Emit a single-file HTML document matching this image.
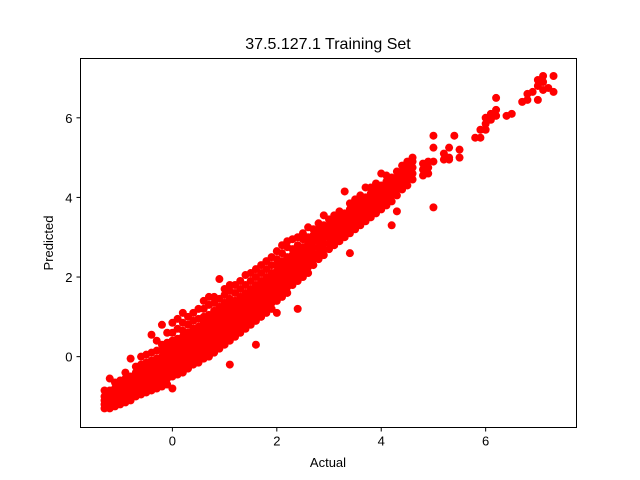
<!DOCTYPE html>
<html><head><meta charset="utf-8"><style>
html,body{margin:0;padding:0;background:#fff;}
svg{display:block;font-family:"Liberation Sans","DejaVu Sans",sans-serif;}
</style></head><body>
<svg id="chart" width="640" height="480">
<rect width="640" height="480" fill="#fff"/>
<text x="328" y="49" font-size="16" text-anchor="middle">37.5.127.1 Training Set</text>
<g id="points"></g>
<rect x="80.5" y="58.5" width="496" height="369" fill="none" stroke="#000" stroke-width="1"/>
<g id="xticks"></g>
<g id="yticks"></g>
<text x="328" y="467" font-size="13" text-anchor="middle">Actual</text>
<text transform="translate(53,243) rotate(-90)" font-size="13" text-anchor="middle">Predicted</text>
</svg>
<script>
const xTicks = [0, 2, 4, 6];
const yTicks = [0, 2, 4, 6];
const colX = [-1.3,-1.2,-1.1,-1.0,-0.9,-0.8,-0.7,-0.6,-0.5,-0.4,-0.3,-0.2,-0.1,0.0,0.1,0.2,0.3,0.4,0.5,0.6,0.7,0.8,0.9,1.0,1.1,1.2,1.3,1.4,1.5,1.6,1.7,1.8,1.9,2.0,2.1,2.2,2.3,2.4,2.5,2.6,2.7,2.8,2.9,3.0,3.1,3.2,3.3,3.4,3.5,3.6,3.7,3.8,3.9,4.0,4.1,4.2,4.3,4.4,4.5,4.6,4.8,4.9,5.0,5.2,5.3,5.4,5.5,5.8,5.9,6.0,6.1,6.2,6.4,6.5,6.7,6.8,6.9,7.0,7.1,7.2,7.3];
const colY = [
[-1.3,-1.2,-1.1,-1.0,-0.85],
[-1.3,-1.15,-1.0,-0.85,-0.55],
[-1.25,-1.1,-0.95,-0.8,-0.65],
[-1.2,-1.05,-0.9,-0.75,-0.6],
[-1.15,-1.0,-0.85,-0.7,-0.55,-0.4],
[-1.1,-0.95,-0.8,-0.65,-0.5,-0.05],
[-1.0,-0.85,-0.7,-0.55,-0.4,-0.25],
[-0.95,-0.8,-0.65,-0.5,-0.35,-0.2,0.0],
[-0.9,-0.75,-0.6,-0.45,-0.3,-0.15,0.05],
[-0.85,-0.7,-0.55,-0.4,-0.25,-0.1,0.1,0.55],
[-0.8,-0.65,-0.5,-0.35,-0.2,-0.05,0.15,0.4],
[-0.75,-0.6,-0.45,-0.3,-0.15,0.0,0.15,0.3,0.8],
[-0.7,-0.55,-0.4,-0.25,-0.1,0.05,0.2,0.35,0.6],
[-0.8,-0.5,-0.35,-0.2,-0.05,0.1,0.25,0.4,0.6,0.85],
[-0.45,-0.3,-0.15,0.0,0.15,0.3,0.45,0.7,0.95],
[-0.4,-0.25,-0.1,0.05,0.2,0.35,0.5,0.65,0.85,1.1],
[-0.3,-0.15,0.0,0.15,0.3,0.45,0.6,0.8,1.0],
[-0.2,-0.05,0.1,0.25,0.4,0.55,0.7,0.9,1.1],
[-0.15,0.0,0.15,0.3,0.45,0.6,0.75,0.95,1.2],
[-0.05,0.1,0.25,0.4,0.55,0.7,0.85,1.0,1.2,1.4],
[0.0,0.15,0.3,0.45,0.6,0.75,0.9,1.05,1.3,1.5],
[0.1,0.25,0.4,0.55,0.7,0.85,1.0,1.15,1.35,1.5],
[0.2,0.35,0.5,0.65,0.8,0.95,1.1,1.25,1.45,1.95],
[0.3,0.45,0.6,0.75,0.9,1.05,1.2,1.35,1.55,1.7],
[-0.2,0.4,0.55,0.7,0.85,1.0,1.15,1.3,1.45,1.65,1.8],
[0.5,0.65,0.8,0.95,1.1,1.25,1.4,1.6,1.8],
[0.6,0.75,0.9,1.05,1.2,1.35,1.5,1.7,1.9],
[0.7,0.85,1.0,1.15,1.3,1.45,1.6,1.8,2.05],
[0.8,0.95,1.1,1.25,1.4,1.55,1.7,1.9,2.1],
[0.3,0.9,1.05,1.2,1.35,1.5,1.65,1.8,2.0,2.2],
[1.0,1.15,1.3,1.45,1.6,1.75,1.9,2.1,2.3],
[1.1,1.25,1.4,1.55,1.7,1.85,2.0,2.2,2.4],
[1.2,1.35,1.5,1.65,1.8,1.95,2.1,2.3,2.5],
[1.1,1.4,1.55,1.7,1.85,2.0,2.15,2.3,2.45,2.65],
[1.5,1.65,1.8,1.95,2.1,2.25,2.4,2.6,2.8],
[1.6,1.75,1.9,2.05,2.2,2.35,2.5,2.75,2.9],
[1.8,1.95,2.1,2.25,2.4,2.55,2.7,2.95],
[1.2,1.9,2.05,2.2,2.35,2.5,2.65,2.8,3.0],
[2.0,2.15,2.3,2.45,2.6,2.75,2.95,3.1],
[2.1,2.25,2.4,2.55,2.7,2.85,3.0,3.25],
[2.3,2.45,2.6,2.75,2.9,3.05,3.2],
[2.45,2.6,2.75,2.9,3.05,3.2,3.35],
[2.55,2.7,2.85,3.0,3.15,3.3,3.55],
[2.7,2.85,3.0,3.15,3.3,3.45],
[2.8,2.95,3.1,3.25,3.4,3.55],
[2.9,3.05,3.2,3.35,3.5,3.65],
[3.0,3.15,3.3,3.45,3.6,4.15],
[2.6,3.1,3.25,3.4,3.55,3.7,3.85],
[3.2,3.35,3.5,3.65,3.8,3.95],
[3.3,3.45,3.6,3.75,3.9,4.05],
[3.4,3.55,3.7,3.85,4.0,4.25],
[3.5,3.65,3.8,3.95,4.1,4.25],
[3.6,3.75,3.9,4.05,4.2,4.35],
[3.7,3.85,4.0,4.15,4.3,4.6],
[3.8,3.95,4.1,4.25,4.4,4.55],
[3.3,3.9,4.05,4.2,4.35,4.5],
[3.65,4.05,4.2,4.35,4.5,4.65],
[4.2,4.35,4.5,4.65,4.8],
[4.3,4.45,4.6,4.75,4.9],
[4.45,4.6,4.75,4.9,5.0],
[4.55,4.7,4.85],
[4.6,4.75,4.9],
[3.75,4.9,5.25,5.55],
[4.95,5.1],
[4.95,5.0,5.25],
[5.55],
[5.0,5.2],
[5.5],
[5.5,5.7],
[5.7,5.85,6.0],
[5.95,6.1],
[6.05,6.2,6.5],
[6.05],
[6.1],
[6.4],
[6.45,6.6],
[6.65],
[6.45,6.8,6.95],
[6.7,6.9,7.05],
[6.75],
[6.65,7.05]
];
const xMin = -1.76, xMax = 7.74, yMin = -1.78, yMax = 7.49;
const L = 80.5, R = 576.5, T = 58.5, B = 427.5;
function sx(v){ return L + (v - xMin) / (xMax - xMin) * (R - L); }
function sy(v){ return B - (v - yMin) / (yMax - yMin) * (B - T); }
const NS = "http://www.w3.org/2000/svg";
const pg = document.getElementById("points");
colX.forEach((x, i) => {
  colY[i].forEach(y => {
    const c = document.createElementNS(NS, "circle");
    c.setAttribute("cx", sx(x));
    c.setAttribute("cy", sy(y));
    c.setAttribute("r", 4);
    c.setAttribute("fill", "#ff0000");
    
    
    pg.appendChild(c);
  });
});
const xg = document.getElementById("xticks");
xTicks.forEach(t => {
  const l = document.createElementNS(NS, "line");
  l.setAttribute("x1", sx(t)); l.setAttribute("x2", sx(t));
  l.setAttribute("y1", B); l.setAttribute("y2", B + 4);
  l.setAttribute("stroke", "#000");
  
  
  xg.appendChild(l);
  const tx = document.createElementNS(NS, "text");
  tx.setAttribute("x", sx(t)); tx.setAttribute("y", B + 18);
  tx.setAttribute("font-size", "13"); tx.setAttribute("text-anchor", "middle");
  tx.textContent = t;
  
  
  xg.appendChild(tx);
});
const yg = document.getElementById("yticks");
yTicks.forEach(t => {
  const l = document.createElementNS(NS, "line");
  l.setAttribute("x1", L - 4); l.setAttribute("x2", L);
  l.setAttribute("y1", sy(t)); l.setAttribute("y2", sy(t));
  l.setAttribute("stroke", "#000");
  
  
  yg.appendChild(l);
  const tx = document.createElementNS(NS, "text");
  tx.setAttribute("x", L - 8); tx.setAttribute("y", sy(t) + 5);
  tx.setAttribute("font-size", "13"); tx.setAttribute("text-anchor", "end");
  tx.textContent = t;
  
  
  yg.appendChild(tx);
});
</script>
</body></html>
